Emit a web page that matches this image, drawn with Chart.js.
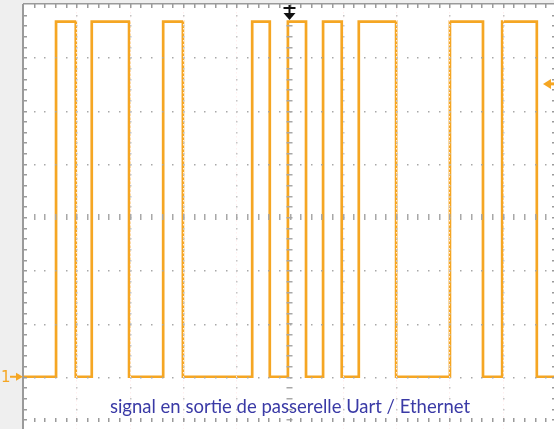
<!DOCTYPE html>
<html>
<head>
<meta charset="utf-8">
<script src="https://cdn.jsdelivr.net/npm/chart.js@4.4.0/dist/chart.umd.min.js"></script>
<style>
    html, body { margin: 0; padding: 0; overflow: hidden; background: #efefef; }
    #wrap { position: absolute; left: 0; top: 0; width: 560px; height: 440px; }
</style>
</head>
<body>
<div id="wrap"><canvas id="scopeChart" width="560" height="440"></canvas></div>
<script>
// Scope capture, values in screen divisions (10 across, 8 high)

// Edge times (divisions from the left border)
const edgeTimes = [0.62, 0.99, 1.29, 1.99, 2.63, 3.00, 4.30, 4.63, 4.97, 5.31,
                   5.63, 5.98, 6.30, 7.00, 8.01, 8.63, 8.99, 9.64];
// Signal levels (divisions from the centre line)
const levelLow = -3.0;
const levelHigh = 3.67;
// Graticule
const xDivisions = [0, 1, 2, 3, 4, 5, 6, 7, 8, 9, 10];
const yDivisions = [-4, -3, -2, -1, 0, 1, 2, 3, 4];
// Markers
const triggerTime = 5;
const triggerLevel = 2.5;
const groundLabel = '1';
const caption = 'signal en sortie de passerelle Uart / Ethernet';

const colors = {
    trace: '#f5a623',
    grid: '#a8a8a8',
    gridSoft: '#c4c4c4',
    gridLight: 'rgba(255, 238, 238, 0.95)',
    frame: '#9a9a9a',
    outside: '#efefef',
    caption: '#3a3aa6'
};

// Build the stepped trace from the edges
const tracePoints = [{ x: xDivisions[0], y: levelLow }];
let level = levelLow;
edgeTimes.forEach(function(t) {
    level = (level === levelLow) ? levelHigh : levelLow;
    tracePoints.push({ x: t, y: level });
});
tracePoints.push({ x: xDivisions[xDivisions.length - 1], y: level });

const scopePlugin = {
    id: 'scope',
    beforeDraw: function(chart) {
        const ctx = chart.ctx;
        const a = chart.chartArea;
        ctx.save();
        ctx.fillStyle = colors.outside;
        ctx.fillRect(0, 0, chart.width, chart.height);
        ctx.fillStyle = '#ffffff';
        ctx.fillRect(a.left, a.top, a.right - a.left, a.bottom - a.top);
        ctx.restore();
    },
    afterDatasetsDraw: function(chart) {
        const ctx = chart.ctx;
        const xs = chart.scales.x;
        const ys = chart.scales.y;
        const a = chart.chartArea;
        const xMid = xs.getPixelForValue(triggerTime);
        const yMid = ys.getPixelForValue(0);
        const minorX = (xs.getPixelForValue(1) - xs.getPixelForValue(0)) / 5;
        const minorY = (ys.getPixelForValue(0) - ys.getPixelForValue(1)) / 5;

        ctx.save();

        // faint dotted vertical grid lines (only show over the trace)
        ctx.strokeStyle = colors.gridLight;
        ctx.lineWidth = 1;
        ctx.setLineDash([1.5, 2.5]);
        xDivisions.slice(1, -1).forEach(function(d) {
            if (d === triggerTime) return;
            const px = Math.round(xs.getPixelForValue(d)) + 0.5;
            ctx.beginPath();
            ctx.moveTo(px, a.top);
            ctx.lineTo(px, a.bottom);
            ctx.stroke();
        });
        ctx.setLineDash([]);

        // dots along horizontal and vertical grid lines
        ctx.fillStyle = colors.grid;
        yDivisions.slice(1, -1).forEach(function(d) {
            if (d === 0) return;
            const py = Math.round(ys.getPixelForValue(d));
            for (let px = a.left + minorX; px < a.right; px += minorX) {
                ctx.fillRect(Math.round(px), py, 1.5, 1.5);
            }
        });
        ctx.fillStyle = colors.gridSoft;
        xDivisions.slice(1, -1).forEach(function(d) {
            if (d === triggerTime) return;
            const px = Math.round(xs.getPixelForValue(d));
            for (let py = a.top + minorY; py < a.bottom; py += minorY) {
                ctx.fillRect(px, Math.round(py), 1.5, 1.5);
            }
        });

        // centre axes with minor ticks
        ctx.fillStyle = colors.grid;
        for (let px = a.left + minorX; px < a.right; px += minorX) {
            ctx.fillRect(Math.round(px), yMid - 3, 1.5, 6);
        }
        for (let py = a.top + minorY; py < a.bottom; py += minorY) {
            ctx.fillRect(xMid - 3, Math.round(py), 6, 1.5);
        }

        // frame with edge ticks
        ctx.fillStyle = colors.frame;
        ctx.fillRect(a.left - 1, a.top, 2, a.bottom - a.top);
        ctx.fillRect(a.left, a.top - 1, a.right - a.left, 1.5);
        for (let py = a.top + minorY; py < a.bottom; py += minorY) {
            ctx.fillRect(a.left, Math.round(py), 4, 1.5);
            ctx.fillRect(a.right - 4, Math.round(py), 4, 1.5);
        }
        for (let px = a.left + minorX; px < a.right; px += minorX) {
            ctx.fillRect(Math.round(px), a.top, 1.5, 4);
            ctx.fillRect(Math.round(px), a.bottom - 12, 1.5, 4);
        }

        // ground marker "1 ->"
        const gy = ys.getPixelForValue(levelLow);
        ctx.fillStyle = colors.trace;
        ctx.strokeStyle = colors.trace;
        ctx.font = '15px "DejaVu Sans"';
        ctx.textAlign = 'left';
        ctx.textBaseline = 'middle';
        ctx.fillText(groundLabel, 1, gy + 1);
        ctx.lineWidth = 2;
        ctx.beginPath();
        ctx.moveTo(10, gy);
        ctx.lineTo(19, gy);
        ctx.stroke();
        ctx.beginPath();
        ctx.moveTo(23, gy);
        ctx.lineTo(16, gy - 4);
        ctx.lineTo(16, gy + 4);
        ctx.closePath();
        ctx.fill();

        // trigger level arrow (right edge)
        const ty = ys.getPixelForValue(triggerLevel);
        ctx.beginPath();
        ctx.moveTo(543, ty);
        ctx.lineTo(551, ty - 5);
        ctx.lineTo(551, ty + 5);
        ctx.closePath();
        ctx.fill();
        ctx.fillRect(549, ty - 1.5, 6, 3);

        // trigger position arrow (top)
        ctx.fillStyle = '#111111';
        ctx.fillRect(xMid - 6, a.top + 3, 12, 2);
        ctx.fillRect(xMid - 1, a.top + 1, 2, 10);
        ctx.beginPath();
        ctx.moveTo(xMid - 6, a.top + 9);
        ctx.lineTo(xMid + 6, a.top + 9);
        ctx.lineTo(xMid, a.top + 16);
        ctx.closePath();
        ctx.fill();

        // caption
        ctx.fillStyle = colors.caption;
        ctx.font = '18.5px Lato';
        ctx.textAlign = 'center';
        ctx.textBaseline = 'alphabetic';
        ctx.fillText(caption, 290, 413);

        ctx.restore();
    }
};

new Chart(document.getElementById('scopeChart').getContext('2d'), {
    type: 'line',
    data: {
        datasets: [{
            label: 'Uart',
            data: tracePoints,
            borderColor: colors.trace,
            borderWidth: 2.7,
            stepped: true,
            pointRadius: 0,
            fill: false
        }]
    },
    options: {
        responsive: false,
        animation: false,
        layout: {
            padding: { left: 23, top: 4, right: 4, bottom: 10 }
        },
        plugins: {
            legend: { display: false },
            tooltip: { enabled: false }
        },
        scales: {
            x: {
                type: 'linear',
                display: false,
                min: xDivisions[0],
                max: xDivisions[xDivisions.length - 1]
            },
            y: {
                type: 'linear',
                display: false,
                min: yDivisions[0],
                max: yDivisions[yDivisions.length - 1]
            }
        }
    },
    plugins: [scopePlugin]
});
</script>
</body>
</html>
